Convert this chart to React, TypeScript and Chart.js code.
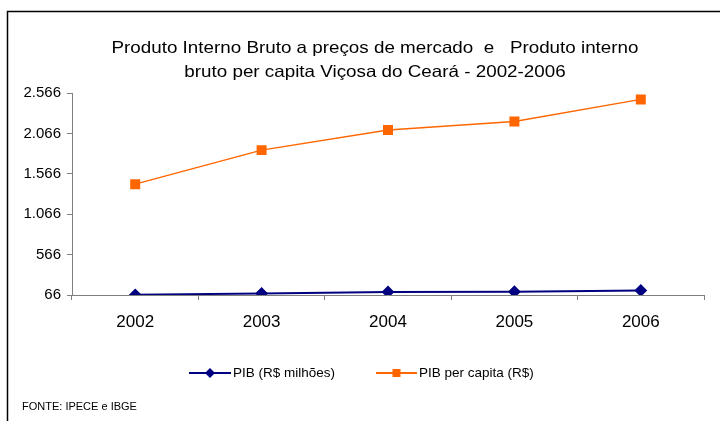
import { useEffect, useRef } from 'react';
import { Chart, registerables } from 'chart.js';

Chart.register(...registerables);

const years = ['2002', '2003', '2004', '2005', '2006'];
const pibMilhoes = [68, 86, 104, 106, 122];
const pibPerCapita = [1438, 1859, 2107, 2214, 2487];
const yTickValues = [66, 566, 1066, 1566, 2066, 2566];
const titleLines = [
  'Produto Interno Bruto a preços de mercado  e   Produto interno',
  'bruto per capita Viçosa do Ceará - 2002-2006',
];
const seriesLabels = ['PIB (R$ milhões)', 'PIB per capita (R$)'];
const sourceNote = 'FONTE: IPECE e IBGE';

const FONT = '"Liberation Sans", Arial, sans-serif';
const BLUE = '#000080';
const ORANGE = '#FF6600';
const AXIS = '#7f7f7f';

const fmt = (v: number) => String(v).replace(/\B(?=(\d{3})+(?!\d))/g, '.');

const decorPlugin = {
  id: 'decor',
  beforeDraw(chart: any) {
    const ctx = chart.ctx;
    ctx.save();
    ctx.fillStyle = '#fff';
    ctx.fillRect(0, 0, chart.width, chart.height);
    ctx.strokeStyle = '#000';
    ctx.lineWidth = 1.5;
    ctx.beginPath();
    ctx.moveTo(7.5, chart.height + 2);
    ctx.lineTo(7.5, 11.5);
    ctx.lineTo(chart.width + 2, 11.5);
    ctx.stroke();
    ctx.restore();
  },
  afterDraw(chart: any) {
    const ctx = chart.ctx;
    ctx.save();
    ctx.fillStyle = '#000';
    ctx.textBaseline = 'alphabetic';
    ctx.textAlign = 'center';
    ctx.font = `16.5px ${FONT}`;
    const baselines = [53, 76.5];
    titleLines.forEach((line, i) => {
      ctx.save();
      ctx.translate(375, baselines[i]);
      ctx.scale(1.14, 1);
      ctx.fillText(line, 0, 0);
      ctx.restore();
    });

    // legend
    const items = [
      { x0: 189, x1: 231, color: BLUE, style: 'rectRot', lw: 2, label: seriesLabels[0], tx: 233 },
      { x0: 376, x1: 417, color: ORANGE, style: 'rect', lw: 2, label: seriesLabels[1], tx: 419 },
    ];
    const ly = 373;
    ctx.textAlign = 'left';
    ctx.textBaseline = 'middle';
    ctx.font = `13.5px ${FONT}`;
    for (const it of items) {
      ctx.strokeStyle = it.color;
      ctx.lineWidth = it.lw;
      ctx.beginPath();
      ctx.moveTo(it.x0, ly);
      ctx.lineTo(it.x1, ly);
      ctx.stroke();
      ctx.fillStyle = it.color;
      const cx = (it.x0 + it.x1) / 2;
      if (it.style === 'rect') {
        ctx.fillRect(cx - 4, ly - 4, 8, 8);
      } else {
        ctx.beginPath();
        ctx.moveTo(cx, ly - 5);
        ctx.lineTo(cx + 5, ly);
        ctx.lineTo(cx, ly + 5);
        ctx.lineTo(cx - 5, ly);
        ctx.closePath();
        ctx.fill();
      }
      ctx.fillStyle = '#000';
      ctx.fillText(it.label, it.tx, ly);
    }

    ctx.font = `11px ${FONT}`;
    ctx.fillText(sourceNote, 22, 407);
    ctx.restore();
  },
};

export default function App() {
  const ref = useRef<HTMLCanvasElement | null>(null);

  useEffect(() => {
    if (!ref.current) return;
    const chart = new Chart(ref.current, {
      type: 'line',
      data: {
        labels: years,
        datasets: [
          {
            label: seriesLabels[0],
            data: pibMilhoes,
            borderColor: BLUE,
            backgroundColor: BLUE,
            borderWidth: 2,
            pointStyle: 'rectRot',
            pointRadius: 5,
            pointHoverRadius: 5,
            tension: 0,
          },
          {
            label: seriesLabels[1],
            data: pibPerCapita,
            borderColor: ORANGE,
            backgroundColor: ORANGE,
            borderWidth: 1.5,
            pointStyle: 'rect',
            pointRadius: 6,
            pointHoverRadius: 6,
            tension: 0,
          },
        ],
      },
      options: {
        animation: false,
        responsive: false,
        maintainAspectRatio: false,
        layout: { padding: { top: 93, left: 0, right: 16, bottom: 0 } },
        plugins: {
          legend: { display: false },
          title: { display: false },
          tooltip: { enabled: false },
        },
        scales: {
          x: {
            type: 'category',
            offset: true,
            grid: { offset: true, drawOnChartArea: false, tickLength: 5, color: AXIS },
            border: { color: AXIS, width: 1 },
            ticks: { color: '#000', font: { family: FONT, size: 17 }, padding: 12 },
            afterFit: (s: any) => { s.height = 126; },
          },
          y: {
            min: 66,
            max: 2566,
            afterBuildTicks: (s: any) => { s.ticks = yTickValues.map((v) => ({ value: v })); },
            grid: { drawOnChartArea: false, tickLength: 5, color: AXIS },
            border: { color: AXIS, width: 1 },
            ticks: {
              color: '#000',
              font: { family: FONT, size: 15 },
              padding: 6,
              callback: (v: any) => fmt(Number(v)),
            },
            afterFit: (s: any) => { s.width = 72; },
          },
        },
      },
      plugins: [decorPlugin],
    });
    return () => chart.destroy();
  }, []);

  return (
    <div style={{ position: 'fixed', left: 0, top: 0, width: 720, height: 421, background: '#fff' }}>
      <canvas ref={ref} width={720} height={421} style={{ display: 'block' }} />
    </div>
  );
}
